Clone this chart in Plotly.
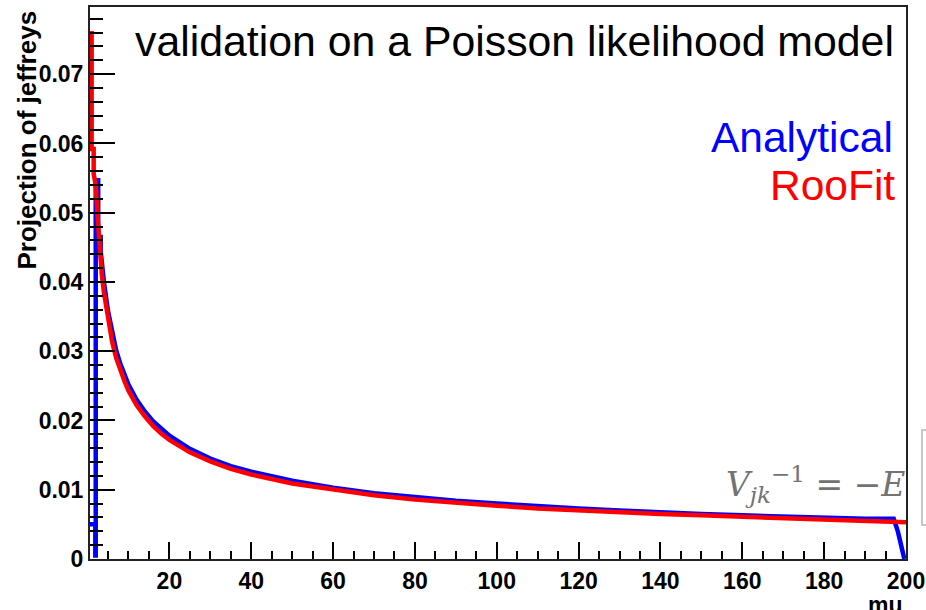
import plotly.graph_objects as go

# ---- data (mu, projection of jeffreys) ----
roofit_mu = [0.6, 1.0, 1.0, 1.5, 1.5, 2.0, 2.5, 3.0, 3.5, 4.0, 5.0, 6.0, 7.0, 8.0, 9.0, 10.0,
             12.0, 14.0, 16.0, 18.0, 20.0, 25.0, 30.0, 35.0, 40.0, 50.0, 60.0, 70.0, 80.0,
             90.0, 100.0, 110.0, 120.0, 130.0, 140.0, 150.0, 160.0, 170.0, 180.0, 190.0, 200.0]
roofit_val = [0.0759, 0.0759, 0.0592, 0.0592, 0.0556, 0.0540, 0.0490, 0.0442, 0.0410, 0.0385,
              0.0345, 0.0314, 0.0290, 0.0272, 0.0257, 0.0243, 0.0222, 0.0206, 0.0192, 0.0181,
              0.0172, 0.0154, 0.0141, 0.0130, 0.0122, 0.0109, 0.0100, 0.0092, 0.0086, 0.0081,
              0.0077, 0.0073, 0.0070, 0.0067, 0.0065, 0.0063, 0.0061, 0.0059, 0.0057, 0.0056,
              0.0053]

analytic_mu = [0.6, 1.9, 1.9, 2.0, 2.0, 2.6, 2.6, 3.2, 3.2, 3.6, 4.0, 5.0, 6.0, 7.0, 8.0, 9.0,
               10.0, 12.0, 14.0, 16.0, 18.0, 20.0, 25.0, 30.0, 35.0, 40.0, 50.0, 60.0, 70.0,
               80.0, 90.0, 100.0, 110.0, 120.0, 130.0, 140.0, 150.0, 160.0, 170.0, 180.0,
               190.0, 197.0, 198.0, 199.0, 199.6]
analytic_val = [0.0050, 0.0050, 0.0005, 0.0005, 0.0547, 0.0547, 0.0465, 0.0465, 0.0445, 0.0420,
                0.0400, 0.0358, 0.0326, 0.0301, 0.0282, 0.0266, 0.0252, 0.0230, 0.0213, 0.0199,
                0.0188, 0.0178, 0.0159, 0.0145, 0.0134, 0.0126, 0.0113, 0.0103, 0.0095, 0.0089,
                0.0084, 0.0080, 0.0076, 0.0073, 0.0070, 0.0067, 0.0065, 0.0063, 0.0061, 0.0059,
                0.0058, 0.0058, 0.0040, 0.0015, 0.0000]

x_ticks = [20, 40, 60, 80, 100, 120, 140, 160, 180, 200]
y_ticks = [0, 0.01, 0.02, 0.03, 0.04, 0.05, 0.06, 0.07]
y_tick_text = ["0", "0.01", "0.02", "0.03", "0.04", "0.05", "0.06", "0.07"]

W, H = 926, 610
L, R, T, B = 90, 20, 7, 51
pw, ph = W - L - R, H - T - B


def px(xp):
    return (xp - L) / pw


def py(yp):
    return (H - B - yp) / ph


fig = go.Figure()
fig.add_trace(go.Scatter(x=analytic_mu, y=analytic_val, mode="lines",
                         line=dict(color="#0000ff", width=4.5), name="Analytical",
                         showlegend=False))
fig.add_trace(go.Scatter(x=roofit_mu, y=roofit_val, mode="lines",
                         line=dict(color="#ff0000", width=4.5), name="RooFit",
                         showlegend=False))

font = "Liberation Sans, Arial, Helvetica, sans-serif"
tickfont = dict(family=font, size=23, color="black", weight="bold")

fig.update_xaxes(range=[0.6, 200], tickvals=x_ticks, ticks="inside", ticklen=17,
                 tickwidth=2, tickcolor="black", showgrid=False, zeroline=False,
                 showline=True, linecolor="#222", linewidth=2, mirror=True,
                 tickfont=tickfont, automargin=False,
                 minor=dict(ticks="inside", ticklen=8, tickwidth=2, tickcolor="black",
                            dtick=5, tick0=0, showgrid=False))
fig.update_yaxes(range=[0, 0.0797], tickvals=y_ticks, ticktext=y_tick_text, ticks="inside",
                 ticklen=25, tickwidth=2, tickcolor="black", showgrid=False, zeroline=False,
                 showline=True, linecolor="#222", linewidth=2, mirror=True,
                 tickfont=tickfont, automargin=False,
                 minor=dict(ticks="inside", ticklen=13, tickwidth=2, tickcolor="black",
                            dtick=0.002, tick0=0, showgrid=False))

ann = []
ann.append(dict(text="validation on a Poisson likelihood model", x=px(896), y=py(41),
                xref="paper", yref="paper", xanchor="right", yanchor="middle",
                showarrow=False, font=dict(family=font, size=42.8, color="black")))
ann.append(dict(text="Analytical", x=px(895), y=py(137), xref="paper", yref="paper",
                xanchor="right", yanchor="middle", showarrow=False,
                font=dict(family=font, size=42.5, color="#0000ff")))
ann.append(dict(text="RooFit", x=px(897), y=py(185), xref="paper", yref="paper",
                xanchor="right", yanchor="middle", showarrow=False,
                font=dict(family=font, size=42.5, color="#ff0000")))
ann.append(dict(text="Projection of jeffreys", x=px(26), y=py(9), xref="paper",
                yref="paper", xanchor="center", yanchor="top", textangle=-90,
                showarrow=False, font=dict(family=font, size=26, color="black",
                                           weight="bold")))
ann.append(dict(text="mu", x=px(905), y=py(590), xref="paper", yref="paper",
                xanchor="right", yanchor="top", showarrow=False,
                font=dict(family=font, size=23, color="black", weight="bold")))
# gray formula overlay
serif = "DejaVu Serif, Liberation Serif, serif"
gray = "#737373"
ann.append(dict(text="<i>V</i><sub><i>jk</i></sub><sup>−1</sup> = −<i>E</i>",
                x=px(907), y=py(484), xref="paper", yref="paper",
                xanchor="right", yanchor="middle", showarrow=False,
                font=dict(family=serif, size=33, color=gray)))

shapes = [dict(type="rect", xref="paper", yref="paper", x0=px(922), x1=px(960),
               y0=py(525), y1=py(430), line=dict(color="#c8c8c8", width=2),
               fillcolor="rgba(0,0,0,0)")]

fig.update_layout(width=W, height=H, margin=dict(l=L, r=R, t=T, b=B),
                  paper_bgcolor="white", plot_bgcolor="white",
                  annotations=ann, shapes=shapes, showlegend=False)

fig.write_html("out.html")
